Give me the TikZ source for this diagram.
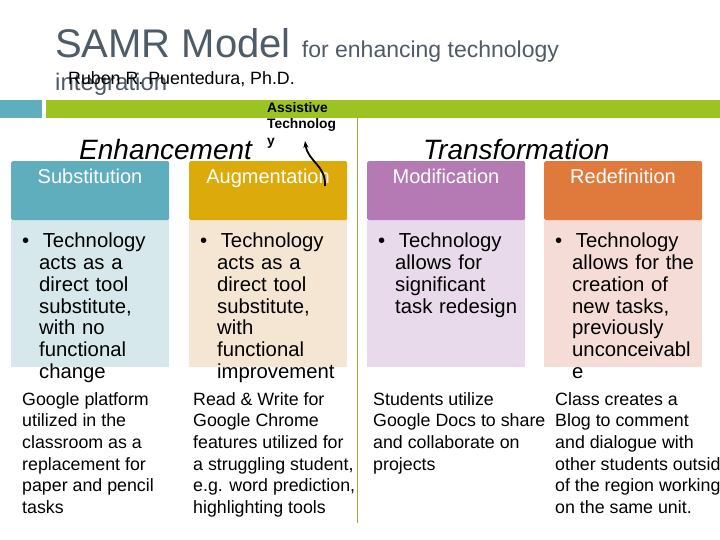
\documentclass[tikz,border=0pt]{standalone}
\usepackage{fontspec}
\setmainfont{Liberation Sans}
\usetikzlibrary{positioning,arrows.meta}
\definecolor{tgray}{HTML}{4F5B66}
\definecolor{teal1}{HTML}{5FAEBE}
\definecolor{lime}{HTML}{9BC423}
\definecolor{cS}{HTML}{5FAEBE}\definecolor{bS}{HTML}{D6E8EC}
\definecolor{cA}{HTML}{DDAA0B}\definecolor{bA}{HTML}{F5E6D3}
\definecolor{cM}{HTML}{B57AB4}\definecolor{bM}{HTML}{E8DAEA}
\definecolor{cR}{HTML}{E07A3C}\definecolor{bR}{HTML}{F5DCD6}
\tikzset{
 hdr/.style={minimum width=158pt,minimum height=59pt,inner sep=0pt,anchor=north west},
 bodybox/.style={minimum width=158pt,minimum height=147pt,inner sep=0pt,anchor=north west},
 btxt/.style={anchor=north west,align=left,font=\fontsize{20.3}{21.7}\selectfont,inner sep=0pt,text width=158pt},
 ex/.style={anchor=north west,align=left,font=\fontsize{17.8}{21.7}\selectfont,inner sep=0pt},
}
\begin{document}
\begin{tikzpicture}[x=1pt,y=-1pt]
\useasboundingbox (0,0) rectangle (720,540);
\fill[white] (0,0) rectangle (720,540);
% title
\node[anchor=base west,inner sep=0pt,text=tgray] (title) at (55,58) {\fontsize{40}{42}\selectfont SAMR Model \fontsize{23}{25}\selectfont for enhancing technology};
\node[anchor=base west,inner sep=0pt,text=tgray,font=\fontsize{24}{26}\selectfont] (integ) at (55,91) {integration};
\node[anchor=base west,inner sep=0pt,font=\fontsize{17.8}{20}\selectfont] (author) at (68,85) {Ruben R. Puentedura, Ph.D.};
% band
\fill[teal1] (0,100) rectangle (42,118);
\fill[lime] (46,100) rectangle (720,118);
\draw[lime!70!gray,line width=0.6pt] (357,118) -- (357,523);
% section labels
\node[anchor=base west,inner sep=0pt,font=\itshape\fontsize{28}{30}\selectfont] (enh) at (79,160) {Enhancement};
\node[anchor=base west,inner sep=0pt,font=\itshape\fontsize{28}{30}\selectfont] (tra) at (423,160) {Transformation};
\node[anchor=north west,inner sep=0pt,align=left,font=\bfseries\fontsize{13.8}{16.5}\selectfont] (at) at (267,102) {Assistive\\Technolog\\y};
% columns
\foreach \n/\x/\c/\b/\t in {S/11/cS/bS/Substitution, A/189/cA/bA/Augmentation, M/367/cM/bM/Modification, R/544/cR/bR/Redefinition}{
 \node[bodybox,fill=\b] (b\n) at (\x,220) {};
 \node[hdr,fill=\c,rounded corners=1.5pt] (h\n) at (\x,161) {};
 \node[anchor=base,inner sep=0pt,text=white,font=\fontsize{20}{22}\selectfont] (t\n) at (\x+79,184) {\t};
}
\node[btxt] (lS) at (22,233) {\textbullet\ \ Technology\\\hspace*{17pt}acts as a\\\hspace*{17pt}direct tool\\\hspace*{17pt}substitute,\\\hspace*{17pt}with no\\\hspace*{17pt}functional\\\hspace*{17pt}change};
\node[btxt] (lA) at (200,233) {\textbullet\ \ Technology\\\hspace*{17pt}acts as a\\\hspace*{17pt}direct tool\\\hspace*{17pt}substitute,\\\hspace*{17pt}with\\\hspace*{17pt}functional\\\hspace*{17pt}improvement};
\node[btxt] (lM) at (378,233) {\textbullet\ \ Technology\\\hspace*{17pt}allows for\\\hspace*{17pt}significant\\\hspace*{17pt}task redesign};
\node[btxt] (lR) at (555,233) {\textbullet\ \ Technology\\\hspace*{17pt}allows for the\\\hspace*{17pt}creation of\\\hspace*{17pt}new tasks,\\\hspace*{17pt}previously\\\hspace*{17pt}unconceivabl\\\hspace*{17pt}e};
% examples
\node[ex] (eS) at (22,392) {Google platform\\utilized in the\\classroom as a\\replacement for\\paper and pencil\\tasks};
\node[ex] (eA) at (193,392) {Read \& Write for\\Google Chrome\\features utilized for\\a struggling student,\\e.g. word prediction,\\highlighting tools};
\node[ex] (eM) at (373,392) {Students utilize\\Google Docs to share\\and collaborate on\\projects};
\begin{scope}
\clip (540,380) rectangle (720,540);
\node[ex] (eR) at (555,392) {Class creates a\\Blog to comment\\and dialogue with\\other students outside\\of the region working\\on the same unit.};
\end{scope}
% curved arrow
\coordinate (arS) at (325,186);
\draw[line width=1.8pt,-{Stealth[length=7pt]}] (arS) .. controls (326,165) and (308,162) .. (305,141);
\end{tikzpicture}
\end{document}
